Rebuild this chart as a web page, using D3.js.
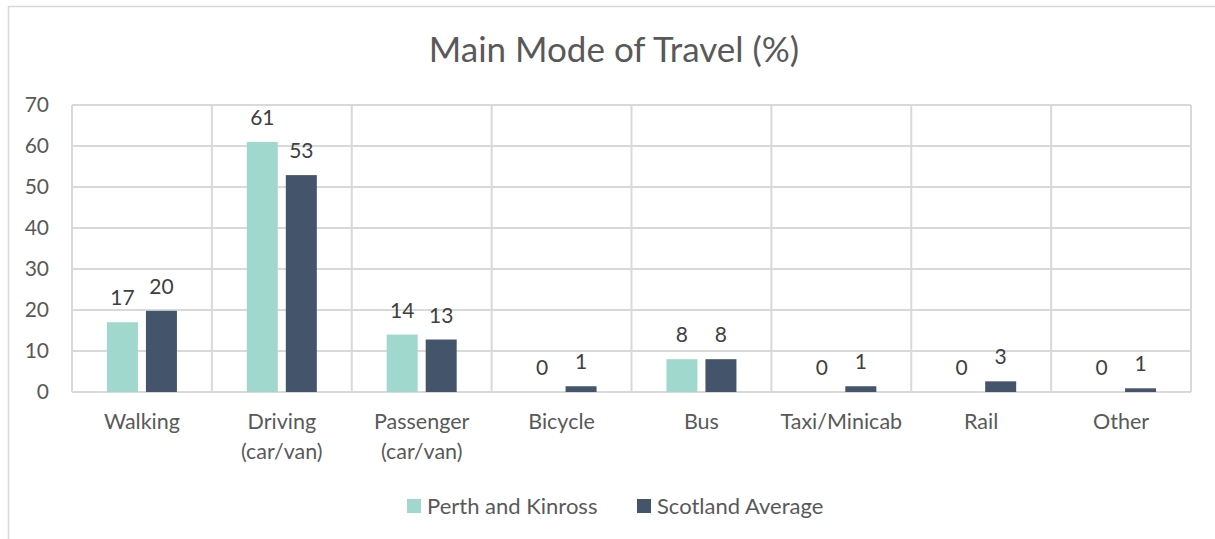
<!DOCTYPE html>
<html>
<head>
<meta charset="utf-8">
<script src="https://cdn.jsdelivr.net/npm/d3@7"></script>
<style>
  body { margin: 0; background: #fff; }
  svg { display: block; font-family: Lato, "Open Sans", sans-serif; }
</style>
</head>
<body>
<svg id="chart"></svg>
<script>
// data
const categories = [["Walking"], ["Driving", "(car/van)"], ["Passenger", "(car/van)"], ["Bicycle"], ["Bus"], ["Taxi/Minicab"], ["Rail"], ["Other"]];
const seriesNames = ["Perth and Kinross", "Scotland Average"];
const perthValues = [17, 61, 14, 0, 8, 0, 0, 0];
const scotlandValues = [19.8, 52.9, 12.8, 1.4, 8, 1.4, 2.6, 0.9];
const yTicks = [0, 10, 20, 30, 40, 50, 60, 70];
const colors = ["#a1d8cd", "#44546a"];

const W = 1215, H = 539;
const margin = { top: 105, right: 24, bottom: 147, left: 72 };
const width = W - margin.left - margin.right;
const height = H - margin.top - margin.bottom;

const svg = d3.select("#chart").attr("width", W).attr("height", H);

// outer chart border (cropped on right/bottom)
svg.append("rect")
    .attr("x", 8.5).attr("y", 6.5)
    .attr("width", W + 10).attr("height", H + 10)
    .attr("fill", "none").attr("stroke", "#d9d9d9").attr("stroke-width", 1.5);

svg.append("text")
    .attr("x", 614).attr("y", 62)
    .attr("text-anchor", "middle")
    .attr("font-size", 35)
    .attr("fill", "#595959")
    .text("Main Mode of Travel (%)");

const g = svg.append("g").attr("transform", `translate(${margin.left},${margin.top})`);

const keys = categories.map((c, i) => i);
const x = d3.scaleBand().domain(keys).range([0, width]).padding(0);
const y = d3.scaleLinear().domain([0, 70]).range([height, 0]);

// horizontal gridlines
g.append("g").selectAll("line")
    .data(yTicks)
    .join("line")
    .attr("x1", 0).attr("x2", width)
    .attr("y1", d => y(d)).attr("y2", d => y(d))
    .attr("stroke", "#d9d9d9").attr("stroke-width", 2);

// vertical category dividers
g.append("g").selectAll("line")
    .data(d3.range(categories.length + 1))
    .join("line")
    .attr("x1", d => d * x.bandwidth()).attr("x2", d => d * x.bandwidth())
    .attr("y1", 0).attr("y2", height)
    .attr("stroke", "#d9d9d9").attr("stroke-width", 2);

// y tick labels
g.append("g").selectAll("text")
    .data(yTicks)
    .join("text")
    .attr("x", -23).attr("y", d => y(d) + 7)
    .attr("text-anchor", "end")
    .attr("font-size", 21)
    .attr("fill", "#595959")
    .text(d => d);

const barW = 31, gap = 8;
const rows = [];
keys.forEach(i => {
    [perthValues[i], scotlandValues[i]].forEach((v, s) => {
        rows.push({ i, s, v });
    });
});
const barX = d => x(d.i) + x.bandwidth() / 2 + (d.s === 0 ? -gap / 2 - barW : gap / 2);

g.append("g").selectAll("rect")
    .data(rows)
    .join("rect")
    .attr("x", barX)
    .attr("y", d => y(d.v))
    .attr("width", barW)
    .attr("height", d => height - y(d.v))
    .attr("fill", d => colors[d.s]);

// value labels
g.append("g").selectAll("text")
    .data(rows)
    .join("text")
    .attr("x", d => barX(d) + barW / 2)
    .attr("y", d => y(d.v) - 17)
    .attr("text-anchor", "middle")
    .attr("font-size", 21)
    .attr("fill", "#404040")
    .text(d => Math.round(d.v));

// category labels
const cat = g.append("g").selectAll("text")
    .data(keys)
    .join("text")
    .attr("x", d => x(d) + x.bandwidth() / 2)
    .attr("y", height + 37)
    .attr("text-anchor", "middle")
    .attr("font-size", 21.5)
    .attr("fill", "#595959");
cat.selectAll("tspan")
    .data(d => categories[d].map((t, k) => ({ t, k, cx: x(d) + x.bandwidth() / 2 })))
    .join("tspan")
    .attr("x", d => d.cx)
    .attr("dy", d => d.k === 0 ? 0 : 30)
    .text(d => d.t);

// legend
const legendX = [407, 637];
const legend = svg.append("g").selectAll("g")
    .data(seriesNames)
    .join("g")
    .attr("transform", (d, i) => `translate(${legendX[i]},499)`);
legend.append("rect")
    .attr("width", 14).attr("height", 14)
    .attr("fill", (d, i) => colors[i]);
legend.append("text")
    .attr("x", 20).attr("y", 15)
    .attr("font-size", 22)
    .attr("fill", "#595959")
    .text(d => d);
</script>
</body>
</html>
